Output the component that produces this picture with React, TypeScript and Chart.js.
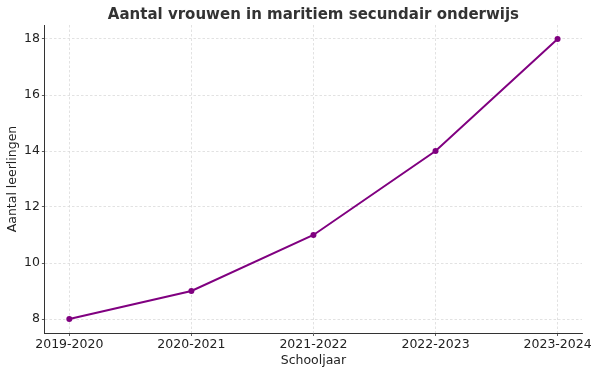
import React, { useEffect, useRef } from "react";
import { Chart, registerables } from "chart.js";

Chart.register(...registerables);

const schooljaren = ["2019-2020", "2020-2021", "2021-2022", "2022-2023", "2023-2024"];
const aantalLeerlingen = [8, 9, 11, 14, 18];
const yTicks = [8, 10, 12, 14, 16, 18];

export default function App() {
  const ref = useRef<HTMLCanvasElement>(null);
  useEffect(() => {
    if (!ref.current) return;
    const font = "'DejaVu Sans', sans-serif";
    const chart = new Chart(ref.current, {
      type: "line",
      data: {
        datasets: [
          {
            data: aantalLeerlingen.map((v, i) => ({ x: i, y: v })),
            borderColor: "#800080",
            backgroundColor: "#800080",
            borderWidth: 2,
            pointRadius: 3,
            pointBorderWidth: 0,
            pointHoverRadius: 3,
            tension: 0,
          },
        ],
      },
      options: {
        responsive: false,
        animation: false,
        layout: { padding: { left: 5, right: 18, top: 3, bottom: 6 } },
        plugins: {
          legend: { display: false },
          tooltip: { enabled: false },
          title: {
            display: true,
            fullSize: false,
            text: "Aantal vrouwen in maritiem secundair onderwijs",
            color: "#333333",
            font: { family: font, size: 15, weight: "bold" },
            padding: { top: 3, bottom: 1 },
          },
        },
        scales: {
          x: {
            type: "linear",
            min: -0.2,
            max: 4.2,
            afterBuildTicks: (s: any) => {
              s.ticks = schooljaren.map((_, i) => ({ value: i }));
            },
            ticks: {
              callback: (v: any) => schooljaren[v as number] ?? "",
              color: "#222222",
              font: { family: font, size: 12.5 },
              padding: 1,
              maxRotation: 0,
              autoSkip: false,
            },
            grid: { color: "#dadada", lineWidth: 0.8, tickLength: 3, tickColor: "#333" },
            border: { color: "#333333", width: 1, dash: [2.5, 2] },
            title: {
              display: true,
              text: "Schooljaar",
              color: "#222222",
              font: { family: font, size: 12.5 },
              padding: { top: 0, bottom: 0 },
            },
          },
          y: {
            type: "linear",
            min: 7.5,
            max: 18.5,
            afterBuildTicks: (s: any) => {
              s.ticks = yTicks.map((v) => ({ value: v }));
            },
            ticks: {
              color: "#222222",
              font: { family: font, size: 12.5 },
              padding: 2,
            },
            grid: { color: "#dadada", lineWidth: 0.8, tickLength: 3, tickColor: "#333" },
            border: { color: "#333333", width: 1, dash: [2.5, 2] },
            title: {
              display: true,
              text: "Aantal leerlingen",
              color: "#222222",
              font: { family: font, size: 12.5 },
              padding: { top: 0, bottom: 2 },
            },
          },
        },
      },
    } as any);
    return () => chart.destroy();
  }, []);
  return (
    <div style={{ position: "fixed", left: 0, top: 0, width: 600, height: 374, background: "#fff" }}>
      <canvas ref={ref} width={600} height={374} />
    </div>
  );
}
